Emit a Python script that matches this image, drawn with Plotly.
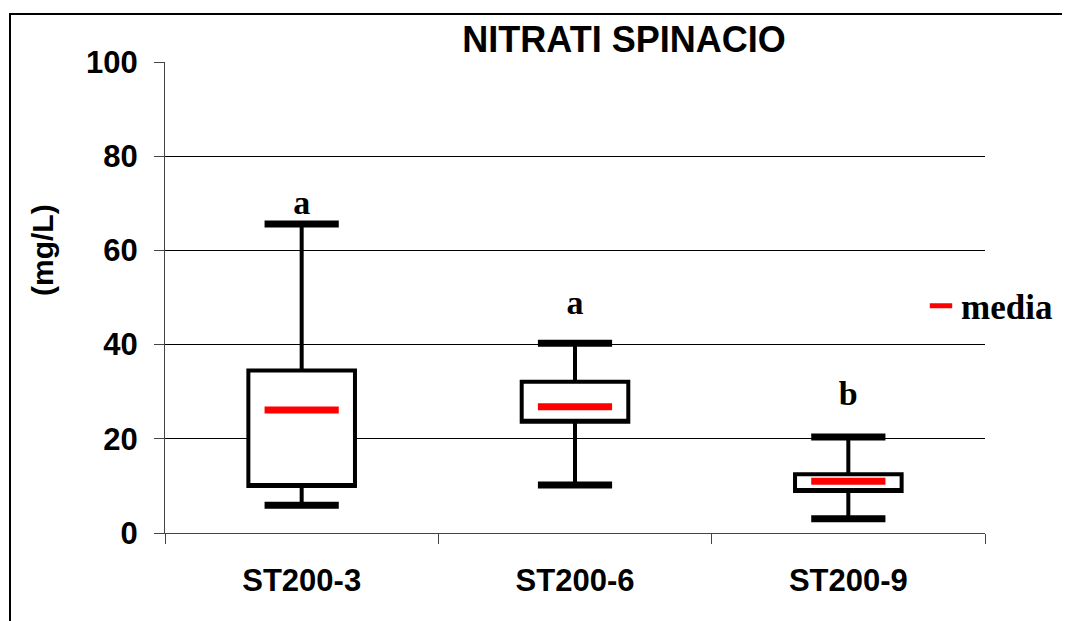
import plotly.graph_objects as go

categories = ["ST200-3", "ST200-6", "ST200-9"]
q1 = [10.0, 23.6, 8.9]
q3 = [34.5, 32.1, 12.5]
lower = [5.9, 10.2, 3.0]
upper = [65.6, 40.3, 20.4]
mean = [26.1, 26.8, 11.0]
letters = ["a", "a", "b"]
letter_y = [69.6, 48.2, 29.0]
y_ticks = [0, 20, 40, 60, 80, 100]

OFF = 8  # default page body margin
W, H = 1070 - OFF, 621 - OFF
L, T = 165 - OFF, 62 - OFF
pw, ph = 820, 471
R, B = W - L - pw, H - T - ph


def px(xp):
    return (xp - 165) / pw


def py(yp):
    return (533 - yp) / ph


fig = go.Figure()

fig.add_trace(go.Box(
    x=categories, q1=q1, q3=q3, median=q1, lowerfence=lower, upperfence=upper,
    width=0.39, whiskerwidth=0.5, fillcolor="white",
    line=dict(color="black", width=4), showlegend=False, boxpoints=False,
    hoverinfo="skip"))

fig.add_trace(go.Scatter(
    x=categories + categories, y=upper + lower, mode="markers",
    marker=dict(symbol="line-ew", size=53, color="black",
                line=dict(color="black", width=7)),
    showlegend=False, hoverinfo="skip"))

fig.add_trace(go.Scatter(
    x=categories, y=mean, mode="markers", name="media",
    marker=dict(symbol="line-ew", size=53, color="red",
                line=dict(color="red", width=7)),
    showlegend=True))

fig.add_trace(go.Scatter(
    x=categories, y=letter_y, mode="text", text=letters,
    textposition="middle center",
    textfont=dict(family="Liberation Serif", size=34, color="black", weight="bold"),
    showlegend=False, hoverinfo="skip"))

fig.update_layout(
    width=W, height=H,
    margin=dict(l=L, r=R, t=T, b=B, autoexpand=False),
    paper_bgcolor="white", plot_bgcolor="white",
    title=dict(text="NITRATI SPINACIO", x=px(624), xref="paper",
               xanchor="center", y=1 - (39 - OFF) / H, yanchor="middle",
               font=dict(family="Liberation Sans", size=36, color="black", weight="bold")),
    legend=dict(x=px(921), y=py(306), xanchor="left", yanchor="middle",
                font=dict(family="Liberation Serif", size=35, color="black", weight="bold"),
                bgcolor="rgba(0,0,0,0)", itemsizing="trace"),
    xaxis=dict(type="category", range=[-0.5, 2.5], tickson="boundaries",
               ticks="outside", ticklen=10, tickcolor="#444", showgrid=False,
               showline=True, linecolor="#444", linewidth=1,
               ticklabelstandoff=20,
               tickfont=dict(family="Liberation Sans", size=31, color="black", weight="bold")),
    yaxis=dict(range=[0, 100], tickvals=y_ticks, ticks="outside", ticklen=10,
               tickcolor="#444", showgrid=True, gridcolor="black", gridwidth=1,
               showline=True, linecolor="#444", linewidth=1, zeroline=False,
               ticklabelstandoff=10,
               tickfont=dict(family="Liberation Sans", size=31, color="black", weight="bold")),
    annotations=[dict(text="(mg/L)", xref="paper", yref="paper",
                      x=px(42), y=py(250), showarrow=False,
                      textangle=-90, xanchor="center", yanchor="middle",
                      font=dict(family="Liberation Sans", size=30, color="black", weight="bold"))],
    shapes=[dict(type="rect", xref="paper", yref="paper",
                 x0=px(10), x1=px(1085),
                 y0=py(640), y1=py(14),
                 line=dict(color="black", width=2), fillcolor="rgba(0,0,0,0)", layer="below")],
)

fig.write_html("out.html")
